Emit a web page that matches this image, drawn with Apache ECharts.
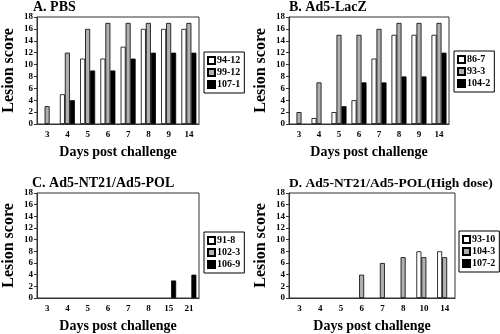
<!DOCTYPE html>
<html>
<head>
<meta charset="utf-8">
<script src="https://cdn.jsdelivr.net/npm/echarts@6/dist/echarts.min.js"></script>
<style>
  html, body { margin: 0; padding: 0; background: #fff; }
  #chart { width: 500px; height: 334px; }
</style>
</head>
<body>
<div id="chart"></div>
<script>
var panelTitles = ["A. PBS", "B. Ad5-LacZ", "C. Ad5-NT21/Ad5-POL", "D. Ad5-NT21/Ad5-POL(High dose)"];

var daysA = ["3", "4", "5", "6", "7", "8", "9", "14"];
var daysB = ["3", "4", "5", "6", "7", "8", "9", "14"];
var daysC = ["3", "4", "5", "6", "7", "8", "15", "21"];
var daysD = ["3", "4", "5", "6", "7", "8", "10", "14"];

var namesA = ["94-12", "99-12", "107-1"];
var namesB = ["86-7", "93-3", "104-2"];
var namesC = ["91-8", "102-3", "106-9"];
var namesD = ["93-10", "104-3", "107-2"];

var valuesA = [
  [0, 5, 11, 11, 13, 16, 16, 16],
  [3, 12, 16, 17, 17, 17, 17, 17],
  [0, 4, 9, 9, 11, 12, 12, 12]
];
var valuesB = [
  [0, 1, 2, 4, 11, 15, 15, 15],
  [2, 7, 15, 15, 16, 17, 17, 17],
  [0, 0, 3, 7, 7, 8, 8, 12]
];
var valuesC = [
  [0, 0, 0, 0, 0, 0, 0, 0],
  [0, 0, 0, 0, 0, 0, 0, 0],
  [0, 0, 0, 0, 0, 0, 3, 4]
];
var valuesD = [
  [0, 0, 0, 0, 0, 0, 8, 8],
  [0, 0, 0, 4, 6, 7, 7, 7],
  [0, 0, 0, 0, 0, 0, 0, 0]
];

var yTicks = { min: 0, max: 18, interval: 2 };

var FONT = "Liberation Serif";
var barColors = ["#ffffff", "#b0b0b0", "#000000"];

// pixel layout of the four plot areas
var grids = [
  { left: 33, top: 17, width: 166, height: 107 },
  { left: 289, top: 17, width: 160, height: 107 },
  { left: 33, top: 193, width: 166, height: 107 },
  { left: 289, top: 193, width: 166, height: 107 }
];
var titlePos = [
  { left: 33, top: 0, size: 14 },
  { left: 289, top: 0, size: 14 },
  { left: 32, top: 176, size: 14 },
  { left: 289, top: 177, size: 13.5 }
];
var legendPos = [
  { left: 204, top: 52 },
  { left: 454, top: 51 },
  { left: 204, top: 232 },
  { left: 459, top: 231 }
];

var days = [daysA, daysB, daysC, daysD];
var names = [namesA, namesB, namesC, namesD];
var values = [valuesA, valuesB, valuesC, valuesD];

function toItems(arr) {
  // zero scores: no visible stub at the baseline
  return arr.map(function (v) {
    return v === 0 ? { value: v, itemStyle: { borderWidth: 0, opacity: 0 } } : v;
  });
}

var option = {
  animation: false,
  backgroundColor: "#fff",
  textStyle: { fontFamily: FONT },
  title: [],
  legend: [],
  grid: [],
  xAxis: [],
  yAxis: [],
  series: []
};

for (var p = 0; p < 4; p++) {
  option.title.push({
    text: panelTitles[p],
    left: titlePos[p].left,
    top: titlePos[p].top,
    padding: 0,
    textStyle: { fontFamily: FONT, fontSize: titlePos[p].size, fontWeight: "bold", color: "#000" }
  });
  option.grid.push({
    left: grids[p].left,
    top: grids[p].top,
    width: grids[p].width,
    height: grids[p].height,
    show: true,
    borderColor: "#333",
    borderWidth: 1,
    containLabel: false
  });
  option.xAxis.push({
    type: "category",
    gridIndex: p,
    data: days[p],
    name: "Days post challenge",
    nameLocation: "middle",
    nameGap: 21,
    nameTextStyle: { fontFamily: FONT, fontSize: 14, fontWeight: "bold", color: "#000" },
    axisLine: { lineStyle: { color: "#333", width: 1 } },
    axisTick: { show: false },
    axisLabel: { fontFamily: FONT, fontSize: 9, fontWeight: "bold", color: "#000", margin: 6 }
  });
  option.yAxis.push({
    type: "value",
    gridIndex: p,
    min: yTicks.min,
    max: yTicks.max,
    interval: yTicks.interval,
    name: "Lesion score",
    nameLocation: "middle",
    nameGap: 20,
    nameTextStyle: { fontFamily: FONT, fontSize: 16, fontWeight: "bold", color: "#000" },
    splitLine: { show: false },
    axisLine: { show: true, lineStyle: { color: "#333", width: 1 } },
    axisTick: { show: true, inside: false, length: 3, lineStyle: { color: "#333" } },
    axisLabel: { fontFamily: FONT, fontSize: 9, fontWeight: "bold", color: "#000", margin: 4 }
  });
  option.legend.push({
    orient: "vertical",
    left: legendPos[p].left,
    top: legendPos[p].top,
    data: names[p],
    icon: "rect",
    itemWidth: 7,
    itemHeight: 7,
    itemGap: 1,
    padding: [3, 4, 3, 3],
    borderColor: "#000",
    borderWidth: 1,
    textStyle: { fontFamily: FONT, fontSize: 10, fontWeight: "bold", color: "#000", lineHeight: 11, padding: [0, 0, 0, -3] }
  });
  for (var s = 0; s < 3; s++) {
    option.series.push({
      name: names[p][s],
      type: "bar",
      xAxisIndex: p,
      yAxisIndex: p,
      data: toItems(values[p][s]),
      barWidth: 5,
      barGap: "0%",
      itemStyle: {
        color: barColors[s],
        borderColor: "#000",
        borderWidth: 0.8
      }
    });
  }
}

var myChart = echarts.init(document.getElementById("chart"), null, { renderer: "canvas" });
myChart.setOption(option);
</script>
</body>
</html>
